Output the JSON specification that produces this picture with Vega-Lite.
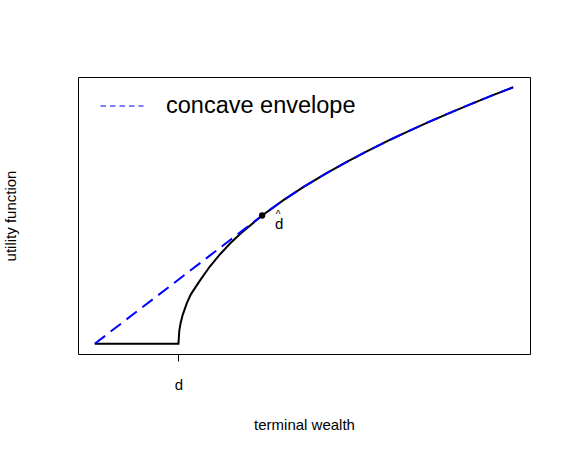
{
  "$schema": "https://vega.github.io/schema/vega-lite/v6.json",
  "width": 452,
  "height": 277,
  "autosize": "none",
  "padding": {"left": 78, "top": 77, "right": 41, "bottom": 99},
  "background": "white",
  "config": {
    "view": {"stroke": "black", "strokeWidth": 1},
    "font": "Liberation Sans"
  },
  "datasets": {
    "utility": [
      {"x": 0, "y": 0}, {"x": 2, "y": 0}, {"x": 2.02, "y": 0.05}, {"x": 2.05, "y": 0.0791},
      {"x": 2.1, "y": 0.1118}, {"x": 2.2, "y": 0.1581}, {"x": 2.3, "y": 0.1936},
      {"x": 2.5, "y": 0.243}, {"x": 2.75, "y": 0.301}, {"x": 3, "y": 0.35},
      {"x": 3.25, "y": 0.3935}, {"x": 3.5, "y": 0.432}, {"x": 4, "y": 0.5},
      {"x": 4.5, "y": 0.559}, {"x": 5, "y": 0.6124}, {"x": 5.5, "y": 0.6614},
      {"x": 6, "y": 0.7071}, {"x": 6.5, "y": 0.75}, {"x": 7, "y": 0.7906},
      {"x": 7.5, "y": 0.8292}, {"x": 8, "y": 0.866}, {"x": 8.5, "y": 0.9014},
      {"x": 9, "y": 0.9354}, {"x": 9.5, "y": 0.9682}, {"x": 10, "y": 1}
    ],
    "envelope": [
      {"x": 0, "y": 0, "series": "concave envelope"},
      {"x": 4, "y": 0.5, "series": "concave envelope"},
      {"x": 4.5, "y": 0.559, "series": "concave envelope"},
      {"x": 5, "y": 0.6124, "series": "concave envelope"},
      {"x": 5.5, "y": 0.6614, "series": "concave envelope"},
      {"x": 6, "y": 0.7071, "series": "concave envelope"},
      {"x": 6.5, "y": 0.75, "series": "concave envelope"},
      {"x": 7, "y": 0.7906, "series": "concave envelope"},
      {"x": 7.5, "y": 0.8292, "series": "concave envelope"},
      {"x": 8, "y": 0.866, "series": "concave envelope"},
      {"x": 8.5, "y": 0.9014, "series": "concave envelope"},
      {"x": 9, "y": 0.9354, "series": "concave envelope"},
      {"x": 9.5, "y": 0.9682, "series": "concave envelope"},
      {"x": 10, "y": 1, "series": "concave envelope"}
    ],
    "point": [{"x": 4, "y": 0.5}]
  },
  "encoding": {
    "x": {
      "field": "x", "type": "quantitative",
      "scale": {"domain": [-0.4, 10.4], "nice": false, "zero": false},
      "axis": {
        "values": [2], "labelExpr": "'d'", "domain": false, "grid": false,
        "ticks": true, "tickSize": 7, "tickColor": "black", "tickWidth": 1,
        "labelFontSize": 15, "labelColor": "black", "labelFont": "Liberation Sans",
        "labelBaseline": "alphabetic", "labelPadding": 28,
        "title": "terminal wealth", "titleFontSize": 15, "titleFontWeight": "normal",
        "titleColor": "black", "titleFont": "Liberation Sans",
        "titleBaseline": "alphabetic", "titleY": 75
      }
    },
    "y": {
      "field": "y", "type": "quantitative",
      "scale": {"domain": [-0.04, 1.04], "nice": false, "zero": false},
      "axis": {
        "labels": false, "ticks": false, "domain": false, "grid": false,
        "title": "utility function", "titleFontSize": 15, "titleFontWeight": "normal",
        "titleColor": "black", "titleFont": "Liberation Sans",
        "titleBaseline": "alphabetic", "titleX": -62.5
      }
    }
  },
  "layer": [
    {
      "data": {"name": "utility"},
      "mark": {"type": "line", "color": "black", "strokeWidth": 2}
    },
    {
      "data": {"name": "envelope"},
      "mark": {"type": "line", "strokeWidth": 2, "strokeDash": [13, 7]},
      "encoding": {
        "color": {
          "field": "series", "type": "nominal",
          "scale": {"range": ["#0000FF"]},
          "legend": {
            "orient": "none", "legendX": 22, "legendY": 7, "title": null,
            "padding": 0, "symbolType": "stroke", "symbolSize": 1849,
            "symbolStrokeWidth": 1, "symbolDash": [5.5, 4],
            "labelFontSize": 23.5, "labelColor": "black", "labelFont": "Liberation Sans",
            "labelOffset": 22, "labelBaseline": "middle", "labelLimit": 400
          }
        }
      }
    },
    {
      "data": {"name": "point"},
      "mark": {"type": "circle", "color": "black", "size": 40, "opacity": 1}
    },
    {
      "data": {"name": "point"},
      "mark": {"type": "text", "text": "d", "dx": 17, "dy": 13.5, "fontSize": 15,
               "align": "center", "baseline": "alphabetic", "color": "black",
               "font": "Liberation Sans"}
    },
    {
      "data": {"name": "point"},
      "mark": {"type": "text", "text": "^", "dx": 16, "dy": 2, "fontSize": 10,
               "align": "center", "baseline": "alphabetic", "color": "black",
               "font": "Liberation Sans"}
    }
  ]
}
